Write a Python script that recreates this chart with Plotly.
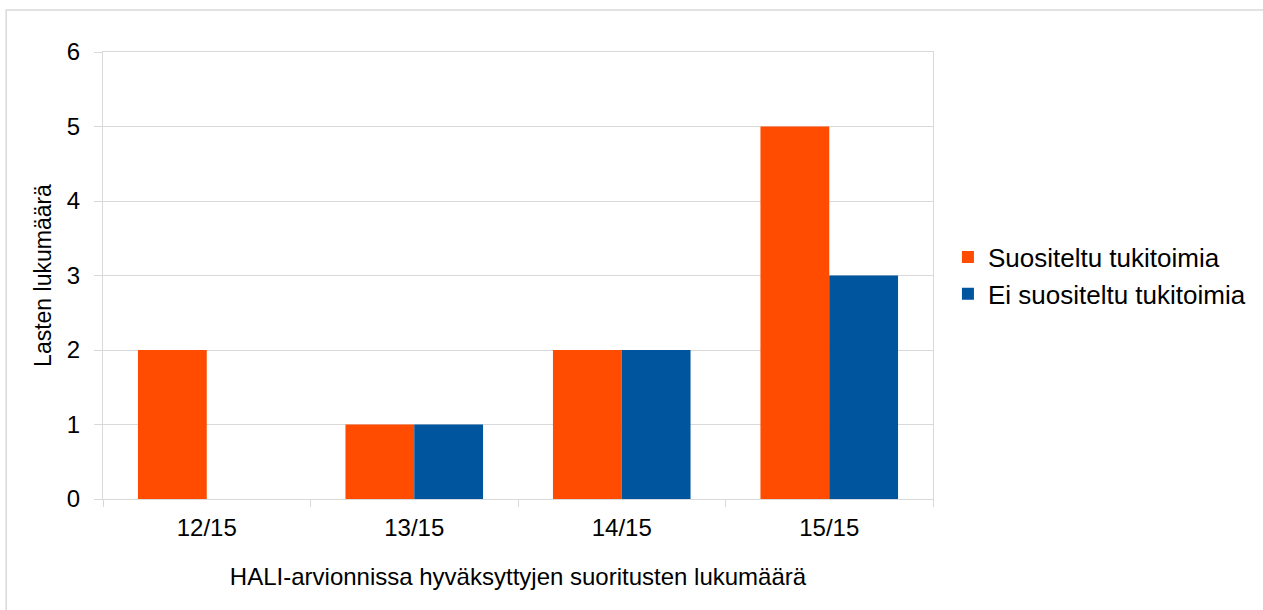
import plotly.graph_objects as go

categories = ["12/15", "13/15", "14/15", "15/15"]
suositeltu = [2, 1, 2, 5]
ei_suositeltu = [0, 1, 2, 3]
series_names = ["Suositeltu tukitoimia", "Ei suositeltu tukitoimia"]
y_ticks = [0, 1, 2, 3, 4, 5, 6]

FONT = "Liberation Sans, Arial, sans-serif"
GRID = "#d9d9d9"

fig = go.Figure()
fig.add_trace(go.Bar(x=categories, y=suositeltu, name=series_names[0],
                     marker=dict(color="#ff4c00", line=dict(width=0))))
fig.add_trace(go.Bar(x=categories, y=ei_suositeltu, name=series_names[1],
                     marker=dict(color="#00559f", line=dict(width=0))))

fig.update_layout(
    width=1263, height=610,
    margin=dict(l=103, r=328, t=52, b=111),
    paper_bgcolor="white", plot_bgcolor="white",
    barmode="group", bargap=0.337, bargroupgap=0,
    font=dict(family=FONT, color="black", size=24),
    legend=dict(x=1.018, y=0.5, xanchor="left", yanchor="middle",
                font=dict(size=26, family=FONT), bgcolor="rgba(0,0,0,0)",
                itemwidth=30),
    xaxis=dict(
        type="category", tickson="boundaries", ticks="outside", ticklen=7,
        tickcolor=GRID, showgrid=False, showline=True, linecolor=GRID,
        mirror=True, tickfont=dict(size=24), ticklabelstandoff=7,
        title=dict(text="HALI-arvionnissa hyväksyttyjen suoritusten lukumäärä",
                   font=dict(size=24), standoff=28),
    ),
    yaxis=dict(
        range=[0, 6], tickvals=y_ticks, ticks="outside", ticklen=8,
        tickcolor=GRID, showgrid=True, gridcolor=GRID, showline=True,
        linecolor=GRID, mirror=True, zeroline=False, tickfont=dict(size=24),
        ticklabelstandoff=9,
        title=dict(text="Lasten lukumäärä", font=dict(size=23), standoff=8),
    ),
)

# outer frame
fig.add_shape(type="rect", xref="paper", yref="paper",
              x0=-97/832, x1=1170/832, y0=-120/447, y1=1 + 42/447,
              line=dict(color="#d9d9d9", width=1.5), layer="below")

fig.write_html("out.html", config={"displayModeBar": False},
               post_script="document.body.style.margin='0px';")
